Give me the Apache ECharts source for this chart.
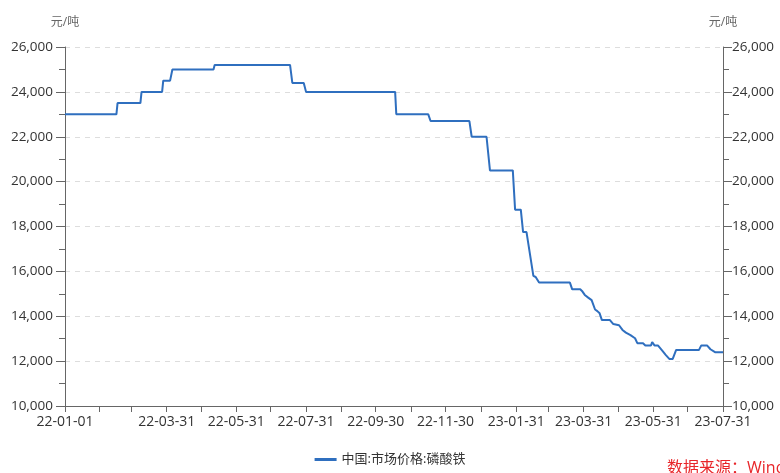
<!DOCTYPE html>
<html>
<head>
<meta charset="utf-8">
<script src="https://cdn.jsdelivr.net/npm/echarts@6/dist/echarts.min.js"></script>
<style>html,body{margin:0;padding:0;background:#fff}#c{width:780px;height:473px}</style>
</head>
<body>
<div id="c"></div>
<script>
var seriesName = '中国:市场价格:磷酸铁';
var unitName = '元/吨';
var sourceText = '数据来源：Wind';
var startDate = '2022-01-01';
var endDate = '2023-07-31';

var priceDates = [
  '2022-01-01','2022-02-15','2022-02-16','2022-03-08','2022-03-09','2022-03-27','2022-03-28',
  '2022-04-03','2022-04-05','2022-05-11','2022-05-12','2022-07-17','2022-07-19','2022-07-29',
  '2022-07-31','2022-10-17','2022-10-18','2022-11-15','2022-11-17','2022-12-21','2022-12-23',
  '2023-01-05','2023-01-08','2023-01-28','2023-01-30','2023-02-04','2023-02-06','2023-02-09',
  '2023-02-15','2023-02-17','2023-02-20','2023-03-19','2023-03-21','2023-03-28','2023-03-30',
  '2023-04-01','2023-04-04','2023-04-07','2023-04-08','2023-04-10','2023-04-12','2023-04-14',
  '2023-04-16','2023-04-23','2023-04-26','2023-05-01','2023-05-04','2023-05-07','2023-05-11',
  '2023-05-15','2023-05-17','2023-05-22','2023-05-24','2023-05-29','2023-05-30','2023-06-01',
  '2023-06-04','2023-06-06','2023-06-08','2023-06-11','2023-06-14','2023-06-17','2023-06-20',
  '2023-07-10','2023-07-12','2023-07-17','2023-07-20','2023-07-24','2023-07-31'
];
var priceValues = [
  23000,23000,23500,23500,24000,24000,24500,
  24500,25000,25000,25200,25200,24400,24400,
  24000,24000,23000,23000,22700,22700,22000,
  22000,20500,20500,18750,18750,17750,17750,
  15800,15750,15500,15500,15200,15200,15100,
  14950,14830,14720,14700,14300,14230,14130,
  13830,13830,13650,13600,13390,13270,13160,
  13020,12800,12800,12700,12700,12850,12700,
  12700,12580,12460,12270,12100,12100,12500,
  12500,12700,12700,12530,12400,12400
];

var tickDates = [
  '2022-01-01','2022-01-31','2022-02-28','2022-03-31','2022-04-30','2022-05-31','2022-06-30',
  '2022-07-31','2022-08-31','2022-09-30','2022-10-31','2022-11-30','2022-12-31',
  '2023-01-31','2023-02-28','2023-03-31','2023-04-30','2023-05-31','2023-06-30','2023-07-31'
];
var labelDates = [
  '2022-01-01','2022-03-31','2022-05-31','2022-07-31','2022-09-30','2022-11-30',
  '2023-01-31','2023-03-31','2023-05-31','2023-07-31'
];
var yMin = 10000, yMax = 26000, yStep = 2000;

function fmt(d){
  var m = d.getUTCMonth()+1, dd = d.getUTCDate();
  return d.getUTCFullYear()+'-'+(m<10?'0':'')+m+'-'+(dd<10?'0':'')+dd;
}
var categories = [];
for (var t = Date.parse(startDate+'T00:00:00Z'); t <= Date.parse(endDate+'T00:00:00Z'); t += 86400000) {
  categories.push(fmt(new Date(t)));
}
var tickSet = {}; tickDates.forEach(function(d){tickSet[d]=1;});
var labelSet = {}; labelDates.forEach(function(d){labelSet[d]=1;});
var seriesData = priceDates.map(function(d,i){ return [d, priceValues[i]]; });

var FONT = '"Open Sans","Noto Sans CJK SC",sans-serif';
function yAxisCfg(pos){
  return {
    type:'value', position:pos, min:yMin, max:yMax, interval:yStep,
    name:unitName, nameLocation:'end', nameGap:18,
    nameTextStyle:{color:'#666', fontSize:12, fontFamily:FONT, align:'center'},
    axisLine:{show:true, lineStyle:{color:'#666', width:1}},
    axisTick:{show:true, length:9, lineStyle:{color:'#666'}},
    minorTick:{show:true, splitNumber:2, length:6, lineStyle:{color:'#666'}},
    axisLabel:{color:'#333', fontSize:13.5, fontFamily:FONT, margin: pos==='left' ? 12 : 9,
      formatter:function(v){ return v.toLocaleString('en-US'); }},
    splitLine:{show: pos==='left', lineStyle:{color:'#ddd', type:[5,5]}}
  };
}

var chart = echarts.init(document.getElementById('c'), null, {renderer:'canvas'});
chart.setOption({
  animation:false,
  backgroundColor:'#fff',
  grid:{left:65, right:57, top:47, bottom:67, containLabel:false},
  legend:{
    data:[{name:seriesName, icon:'rect'}], left:'center', top:448, itemWidth:22, itemHeight:3,
    itemGap:8,
    textStyle:{color:'#333', fontSize:13, fontFamily:FONT}
  },
  graphic:[{
    type:'text', left:667, top:460,
    style:{text:sourceText, fill:'#e8262a', fontSize:16, fontFamily:FONT}
  }],
  xAxis:{
    type:'category', data:categories, boundaryGap:false,
    axisLine:{lineStyle:{color:'#666'}},
    axisTick:{show:true, length:6, lineStyle:{color:'#666'},
      interval:function(i,v){ return !!tickSet[v]; }},
    axisLabel:{color:'#333', fontSize:14, fontFamily:FONT, margin:9,
      interval:function(i,v){ return !!labelSet[v]; },
      formatter:function(v){ return v.slice(2); }},
    splitLine:{show:false}
  },
  yAxis:[yAxisCfg('left'), yAxisCfg('right')],
  series:[{
    name:seriesName, type:'line', data:seriesData, showSymbol:false, symbol:'none',
    lineStyle:{color:'#2f6fbf', width:2}, itemStyle:{color:'#2f6fbf'}
  }]
});
</script>
</body>
</html>
